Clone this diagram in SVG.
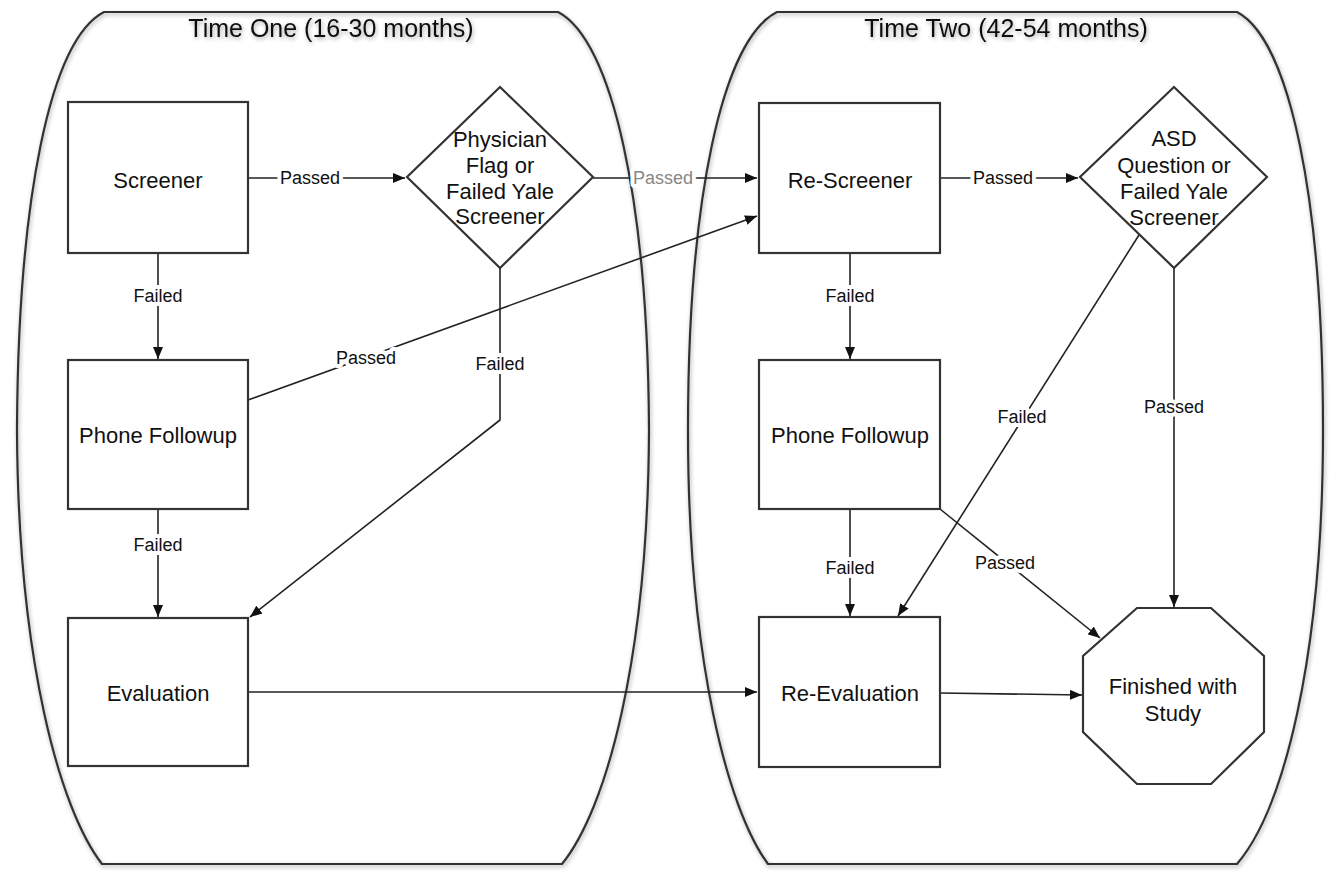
<svg xmlns="http://www.w3.org/2000/svg" width="1337" height="875" viewBox="0 0 1337 875">
<defs>
<marker id="arr" viewBox="0 0 12 10" refX="12" refY="5" markerWidth="12" markerHeight="10" markerUnits="userSpaceOnUse" orient="auto">
<path d="M0,0 L12,5 L0,10 Z" fill="#111"/>
</marker>
<filter id="sh" x="-5%" y="-5%" width="110%" height="110%">
<feGaussianBlur in="SourceAlpha" stdDeviation="2"/>
<feOffset dx="1" dy="2" result="b"/>
<feComponentTransfer><feFuncA type="linear" slope="0.35"/></feComponentTransfer>
<feMerge><feMergeNode/><feMergeNode in="SourceGraphic"/></feMerge>
</filter>
</defs>
<style>
.cont{fill:none;stroke:#333;stroke-width:2.2}
.box{fill:#fff;stroke:#333;stroke-width:2.2}
.title{font-family:"Liberation Sans",Arial,sans-serif;font-size:25px;fill:#111;text-anchor:middle}
.nt{font-family:"Liberation Sans",Arial,sans-serif;font-size:22px;fill:#111;text-anchor:middle}
.edge{fill:none;stroke:#222;stroke-width:1.6}
.lbl{font-family:"Liberation Sans",Arial,sans-serif;font-size:18px;fill:#111;text-anchor:middle;paint-order:stroke;stroke:#fff;stroke-width:8px;stroke-linejoin:round}
</style>
<rect width="1337" height="875" fill="#fff"/>
<g id="time-one" filter="url(#sh)">
<path class="cont" d="M104,12 C50,40 18,200 17,430 C18,660 60,810 102,864 L562,864 C606,810 648,660 649,430 C648,200 612,40 558,12 Z"/>
<text class="title" x="331" y="37">Time One (16-30 months)</text>
</g>
<g id="time-two" filter="url(#sh)">
<path class="cont" d="M777,12 C722,40 688,200 688,430 C688,660 728,810 768,864 L1237,864 C1283,810 1323,660 1323,430 C1323,200 1290,40 1237,12 Z"/>
<text class="title" x="1006" y="37">Time Two (42-54 months)</text>
</g>
<g id="connectors">
<path class="edge" d="M248,178 L405,178" marker-end="url(#arr)"/>
<path class="edge" d="M593,178 L757,178" marker-end="url(#arr)"/>
<path class="edge" d="M940,178 L1078,178" marker-end="url(#arr)"/>
<path class="edge" d="M158,253 L158,359" marker-end="url(#arr)"/>
<path class="edge" d="M158,509 L158,617" marker-end="url(#arr)"/>
<path class="edge" d="M248,400 L757,216" marker-end="url(#arr)"/>
<path class="edge" d="M500,268 L500,420 L250,617" marker-end="url(#arr)"/>
<path class="edge" d="M248,692 L757,692" marker-end="url(#arr)"/>
<path class="edge" d="M850,253 L850,359" marker-end="url(#arr)"/>
<path class="edge" d="M850,509 L850,616" marker-end="url(#arr)"/>
<path class="edge" d="M940,509 L1100,638" marker-end="url(#arr)"/>
<path class="edge" d="M1139,235 L898,616" marker-end="url(#arr)"/>
<path class="edge" d="M1174,268 L1174,607" marker-end="url(#arr)"/>
<path class="edge" d="M940,693 L1082,695" marker-end="url(#arr)"/>
<text class="lbl" x="310" y="184">Passed</text>
<text class="lbl" x="663" y="184" style="fill:#888">Passed</text>
<text class="lbl" x="1003" y="184">Passed</text>
<text class="lbl" x="158" y="302">Failed</text>
<text class="lbl" x="158" y="551">Failed</text>
<text class="lbl" x="366" y="364">Passed</text>
<text class="lbl" x="500" y="370">Failed</text>
<text class="lbl" x="850" y="302">Failed</text>
<text class="lbl" x="850" y="574">Failed</text>
<text class="lbl" x="1022" y="423">Failed</text>
<text class="lbl" x="1174" y="413">Passed</text>
<text class="lbl" x="1005" y="569">Passed</text>
</g>
<g id="screener">
<rect class="box" x="68" y="102" width="180" height="151"/>
<text class="nt" x="158" y="188">Screener</text>
</g>
<g id="phone-followup-1">
<rect class="box" x="68" y="360" width="180" height="149"/>
<text class="nt" x="158" y="443">Phone Followup</text>
</g>
<g id="evaluation">
<rect class="box" x="68" y="618" width="180" height="148"/>
<text class="nt" x="158" y="701">Evaluation</text>
</g>
<g id="physician-flag">
<polygon class="box" points="500,87 593,177 500,268 407,177"/>
<text class="nt" x="500" y="147">Physician</text>
<text class="nt" x="500" y="173">Flag or</text>
<text class="nt" x="500" y="199">Failed Yale</text>
<text class="nt" x="500" y="224">Screener</text>
</g>
<g id="re-screener">
<rect class="box" x="759" y="103" width="181" height="150"/>
<text class="nt" x="850" y="188">Re-Screener</text>
</g>
<g id="asd-question">
<polygon class="box" points="1174,87 1267,177 1174,268 1080,177"/>
<text class="nt" x="1174" y="146">ASD</text>
<text class="nt" x="1174" y="173">Question or</text>
<text class="nt" x="1174" y="199">Failed Yale</text>
<text class="nt" x="1174" y="225">Screener</text>
</g>
<g id="phone-followup-2">
<rect class="box" x="759" y="360" width="181" height="149"/>
<text class="nt" x="850" y="443">Phone Followup</text>
</g>
<g id="re-evaluation">
<rect class="box" x="759" y="617" width="181" height="150"/>
<text class="nt" x="850" y="701">Re-Evaluation</text>
</g>
<g id="finished">
<polygon class="box" points="1137,608 1211,608 1264,656 1264,732 1211,784 1137,784 1083,732 1083,656"/>
<text class="nt" x="1173" y="694">Finished with</text>
<text class="nt" x="1173" y="721">Study</text>
</g>
</svg>
